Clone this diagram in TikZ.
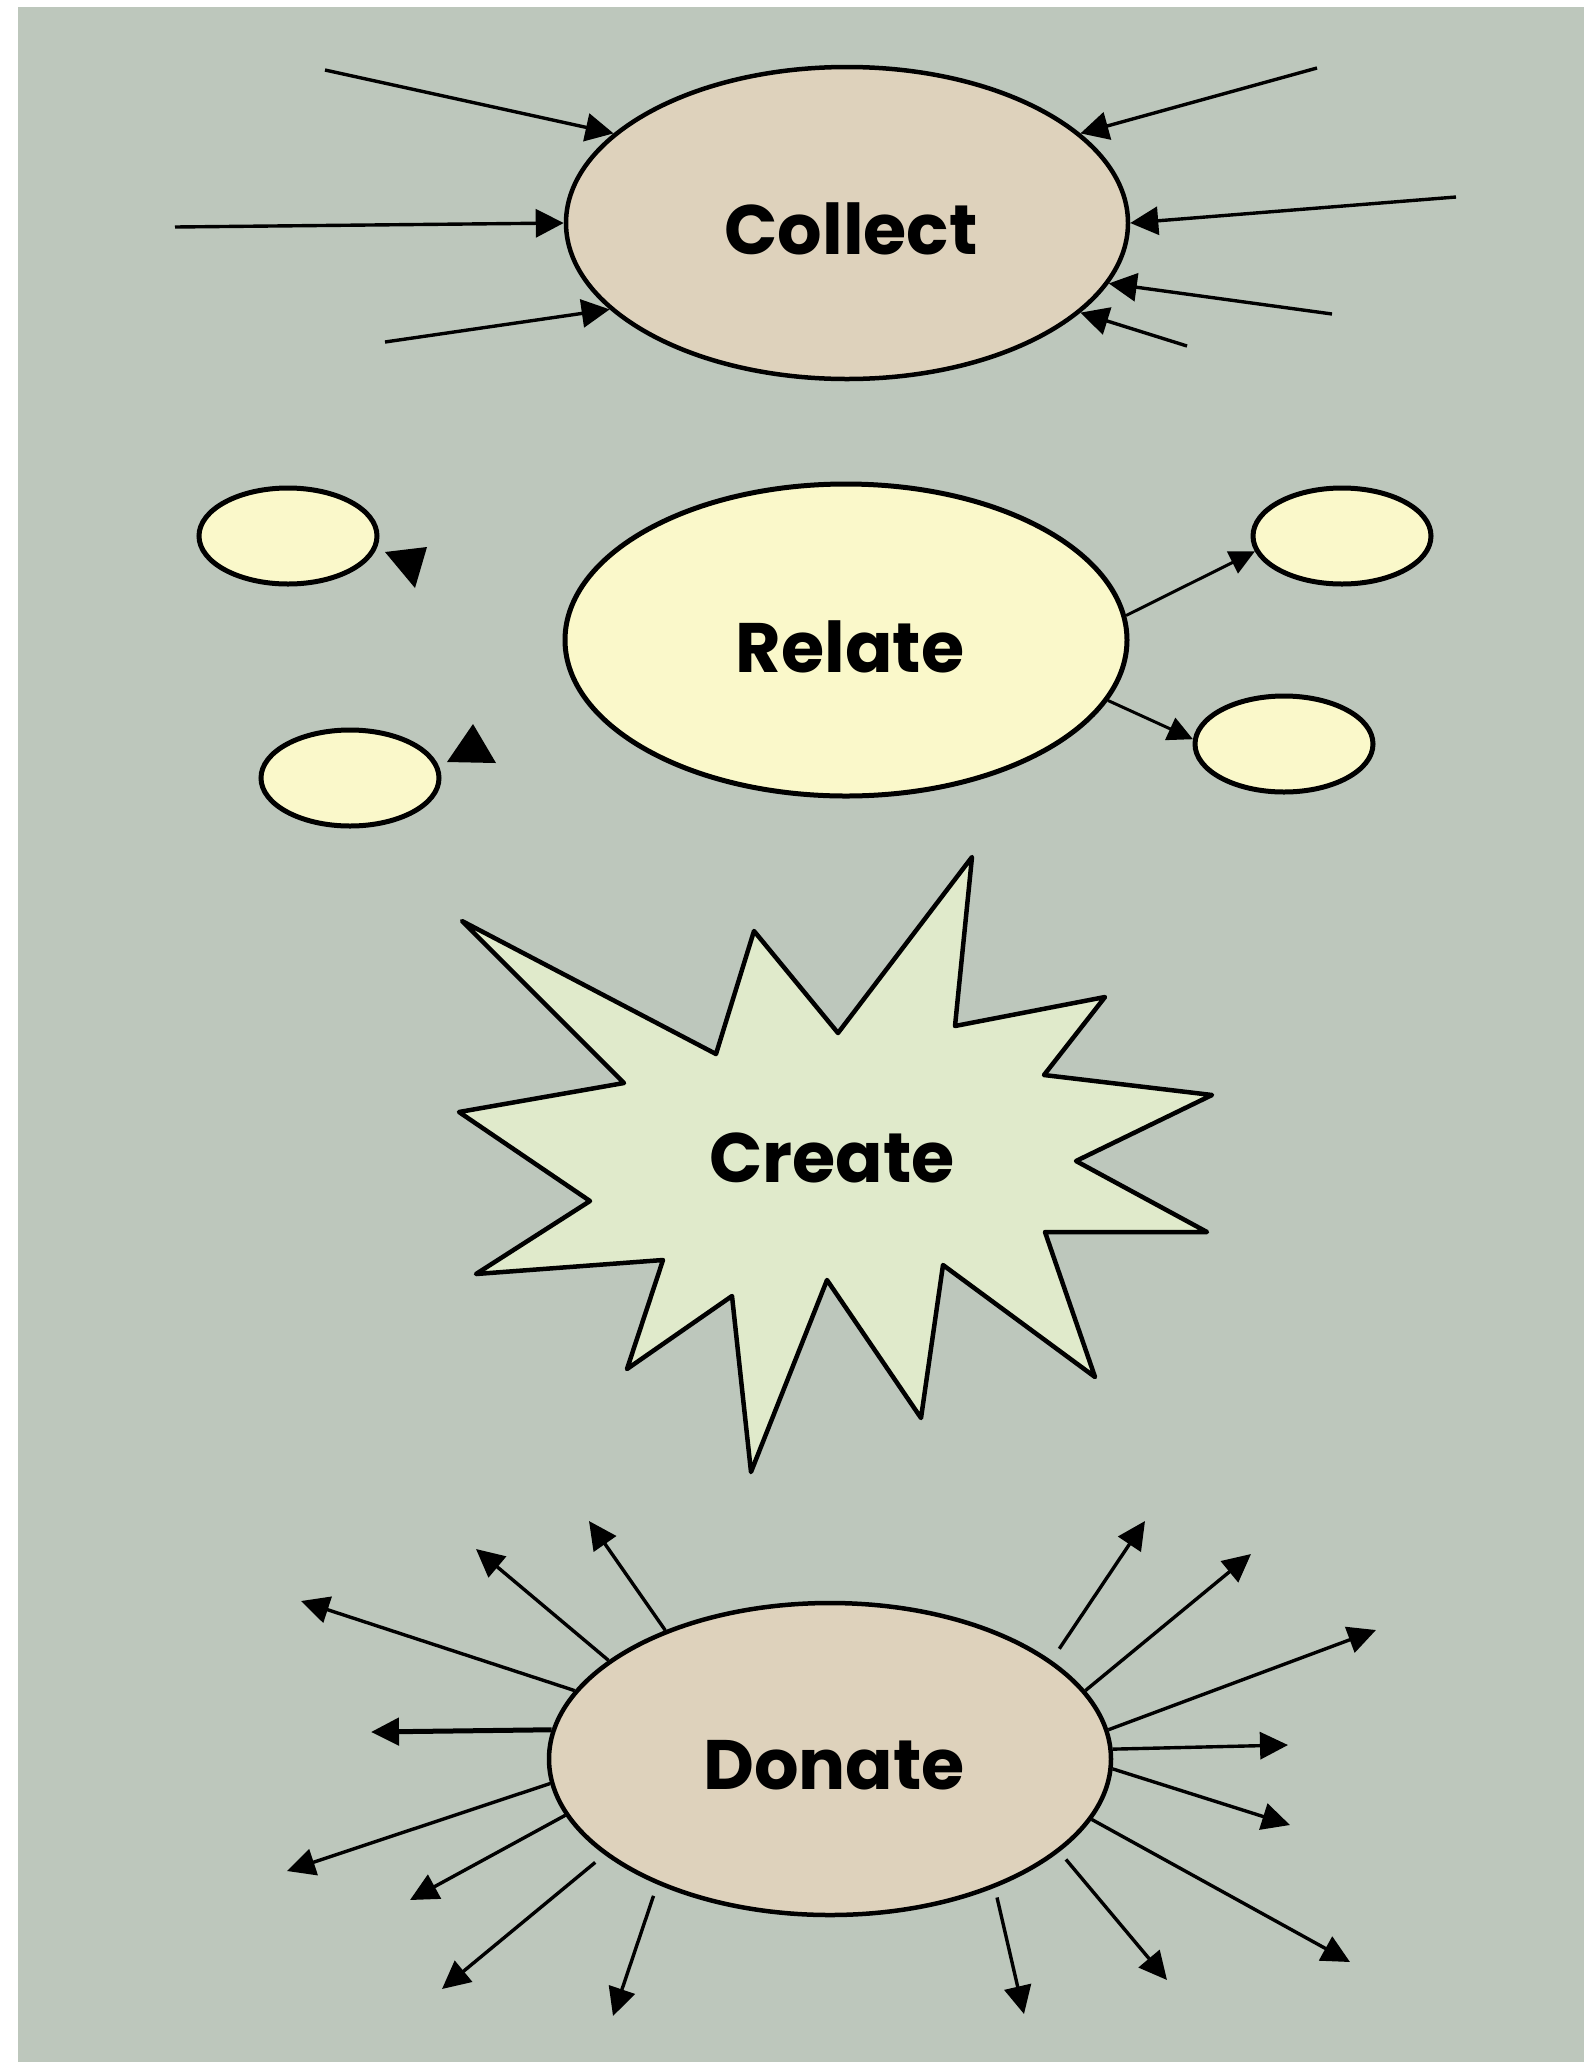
\documentclass[tikz,border=0pt]{standalone}
\usepackage{fontspec}
\setmainfont{Poppins}
\usetikzlibrary{shapes.geometric,arrows.meta}
\definecolor{bgc}{HTML}{BDC7BC}
\definecolor{tanfill}{HTML}{DED2BC}
\definecolor{relfill}{HTML}{FAF8CA}
\definecolor{crefill}{HTML}{E0EACB}
\begin{document}
\begin{tikzpicture}[x=1pt,y=-1pt,
  oval/.style={ellipse,draw=black,line width=4.5pt,inner sep=0pt,
    minimum width=562pt,minimum height=312pt},
  small/.style={ellipse,draw=black,line width=5pt,inner sep=0pt,fill=relfill,
    minimum width=178pt,minimum height=96pt},
  inarr/.style={line width=3.4pt,-{Triangle[length=28pt,width=28pt]}},
  outarr/.style={line width=3.4pt,-{Triangle[length=28pt,width=27pt]}},
  relarr/.style={line width=3pt,-{Triangle[length=25pt,width=24pt]}},
  burst/.style={draw=black,line width=4.5pt,fill=crefill,line join=round},
  lbl/.style={font=\fontsize{70}{76}\selectfont\bfseries,inner sep=0pt}]
\useasboundingbox (0,0) rectangle (1584,2062);
\fill[white] (0,0) rectangle (1584,2062);
\fill[bgc] (18,7) rectangle (1584,2062);

% ---------- Collect ----------
\node[oval,fill=tanfill] (collect) at (847,223) {};
\node[lbl] (collectlbl) at (851,229) {Collect};
\coordinate (c1) at (325,70);
\coordinate (c2) at (175,227);
\coordinate (c3) at (385,342);
\coordinate (c4) at (1317,68);
\coordinate (c5) at (1456,197);
\coordinate (c6) at (1332,314);
\coordinate (c7) at (1187,346);
\draw[inarr] (c1) -- (collect.159);
\draw[inarr] (c2) -- (collect.180);
\draw[inarr] (c3) -- (collect.200);
\draw[inarr] (c4) -- (collect.21);
\draw[inarr] (c5) -- (collect.0.5);
\draw[inarr] (c6) -- (collect.347.7);
\draw[inarr] (c7) -- (collect.339.4);

% ---------- Relate ----------
\node[oval,fill=relfill,line width=5pt] (relate) at (846,640) {};
\node[lbl] (relatelbl) at (850,647) {Relate};
\node[small] (rtl) at (288,536) {};
\node[small] (rbl) at (350,778) {};
\node[small] (rtr) at (1342,536) {};
\node[small] (rbr) at (1284,744) {};
\draw[relarr] (relate.5) -- (rtr.190);
\draw[relarr] (relate.347) -- (rbr.177);
\fill (385,552) -- (427,547) -- (415,588) -- cycle;
\fill (473,724) -- (447,762) -- (496,763) -- cycle;

% ---------- Create ----------
\draw[burst] (462,921) -- (716,1054) -- (754,931) -- (838,1033) -- (972,857)
  -- (955,1026) -- (1105,997) -- (1044,1075) -- (1212,1095) -- (1076,1161)
  -- (1207,1232) -- (1045,1232) -- (1095,1377) -- (943,1265) -- (921,1418)
  -- (827,1280) -- (751,1472) -- (732,1296) -- (627,1369) -- (663,1260)
  -- (476,1274) -- (590,1201) -- (459,1112) -- (624,1083) -- cycle;
\node[lbl] (create) at (832,1158) {Create};

% ---------- Donate ----------
\node[oval,fill=tanfill] (donate) at (830,1759) {};
\node[lbl] (donatelbl) at (834,1765) {Donate};
\coordinate (a1) at (589,1521);
\coordinate (a2) at (476,1549);
\coordinate (a3) at (301,1601);
\coordinate (a4) at (371,1732);
\coordinate (a5) at (287,1871);
\coordinate (a6) at (410,1900);
\coordinate (a7) at (442,1989);
\coordinate (a8) at (613,2016);
\coordinate (b1) at (1145,1521);
\coordinate (b2) at (1251,1554);
\coordinate (b3) at (1376,1630);
\coordinate (b4) at (1288,1745);
\coordinate (b5) at (1290,1825);
\coordinate (b6) at (1350,1962);
\coordinate (b7) at (1167,1980);
\coordinate (b8) at (1024,2014);
\draw[outarr] (donate.142.8) -- (a1);
\draw[outarr] (donate.156.8) -- (a2);
\draw[outarr] (donate.165.9) -- (a3);
\draw[outarr,line width=5pt] (donate.174.6) -- (a4);
\draw[outarr] (donate.185.5) -- (a5);
\draw[outarr] (donate.192.1) -- (a6);
\draw[outarr,shorten <=12pt] (donate.203.1) -- (a7);
\draw[outarr,shorten <=12pt] (donate.216.7) -- (a8);
\draw[outarr,shorten <=14pt] (donate.24.5) -- (b1);
\draw[outarr] (donate.15.9) -- (b2);
\draw[outarr] (donate.6.6) -- (b3);
\draw[outarr] (donate.2.8) -- (b4);
\draw[outarr] (donate.358.2) -- (b5);
\draw[outarr] (donate.347.7) -- (b6);
\draw[outarr,shorten <=10pt] (donate.338.2) -- (b7);
\draw[outarr,shorten <=10pt] (donate.322.7) -- (b8);
\end{tikzpicture}
\end{document}
